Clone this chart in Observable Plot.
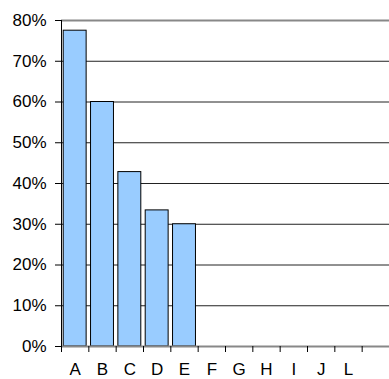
<!DOCTYPE html>
<html><head><meta charset="utf-8">
<script src="https://cdn.jsdelivr.net/npm/d3@7"></script>
<script src="https://cdn.jsdelivr.net/npm/@observablehq/plot@0.6"></script>
<style>html,body{margin:0;padding:0;background:#fff} svg{display:block}</style>
</head><body><div id="chart"></div>
<script>
const categories = ["A","B","C","D","E","F","G","H","I","J","L",""];
const values = [0.775, 0.60, 0.428, 0.334, 0.30, 0, 0, 0, 0, 0, 0, null];
const yTicks = [0, 0.1, 0.2, 0.3, 0.4, 0.5, 0.6, 0.7, 0.8];
const yTickLabels = ["0%","10%","20%","30%","40%","50%","60%","70%","80%"];

const data = categories.map((c, i) => ({cat: c, value: values[i]}));
const W = 389, H = 379, mL = 61, mR = 0, mT = 20, mB = 33;
const step = (W - mL - mR) / categories.length;

const chart = Plot.plot({
  width: W, height: H,
  marginLeft: mL, marginRight: mR, marginTop: mT, marginBottom: mB,
  style: {fontFamily: "'Liberation Sans', Arial, sans-serif", fontSize: "17px", color: "#000", background: "#fff", overflow: "visible"},
  x: {type: "band", domain: categories, padding: 0, round: false, axis: null, label: null},
  y: {domain: [0, 0.8], axis: null, label: null},
  marks: [
    Plot.ruleY(yTicks.filter(d => d > 0 && d < 0.8), {y: d => d, stroke: "#222"}),
    Plot.ruleY([0.8], {y: d => d, stroke: "#888", strokeWidth: 2}),
    Plot.barY(data.filter(d => d.value > 0), {x: "cat", y: "value", fill: "#99ccff", stroke: "#000", insetLeft: 2.2, insetRight: 2.2}),
    Plot.ruleY([0], {y: d => d, stroke: "#888", strokeWidth: 2}),
    Plot.ruleX(categories, {x: d => d, y1: 0, y2: 0, insetBottom: -6, dx: -step / 2, stroke: "#000"}),
    Plot.ruleX([categories[0]], {x: d => d, y1: 0, y2: 0.8, dx: -step / 2, stroke: "#000"}),
    Plot.axisX({tickSize: 0, tickPadding: 16, tickFormat: d => d, label: null}),
    Plot.axisY({ticks: yTicks, tickFormat: d => yTickLabels[yTicks.indexOf(d)], tickSize: 6, tickPadding: 9, stroke: "#000", label: null})
  ]
});
document.getElementById("chart").appendChild(chart);
</script>
</body></html>
